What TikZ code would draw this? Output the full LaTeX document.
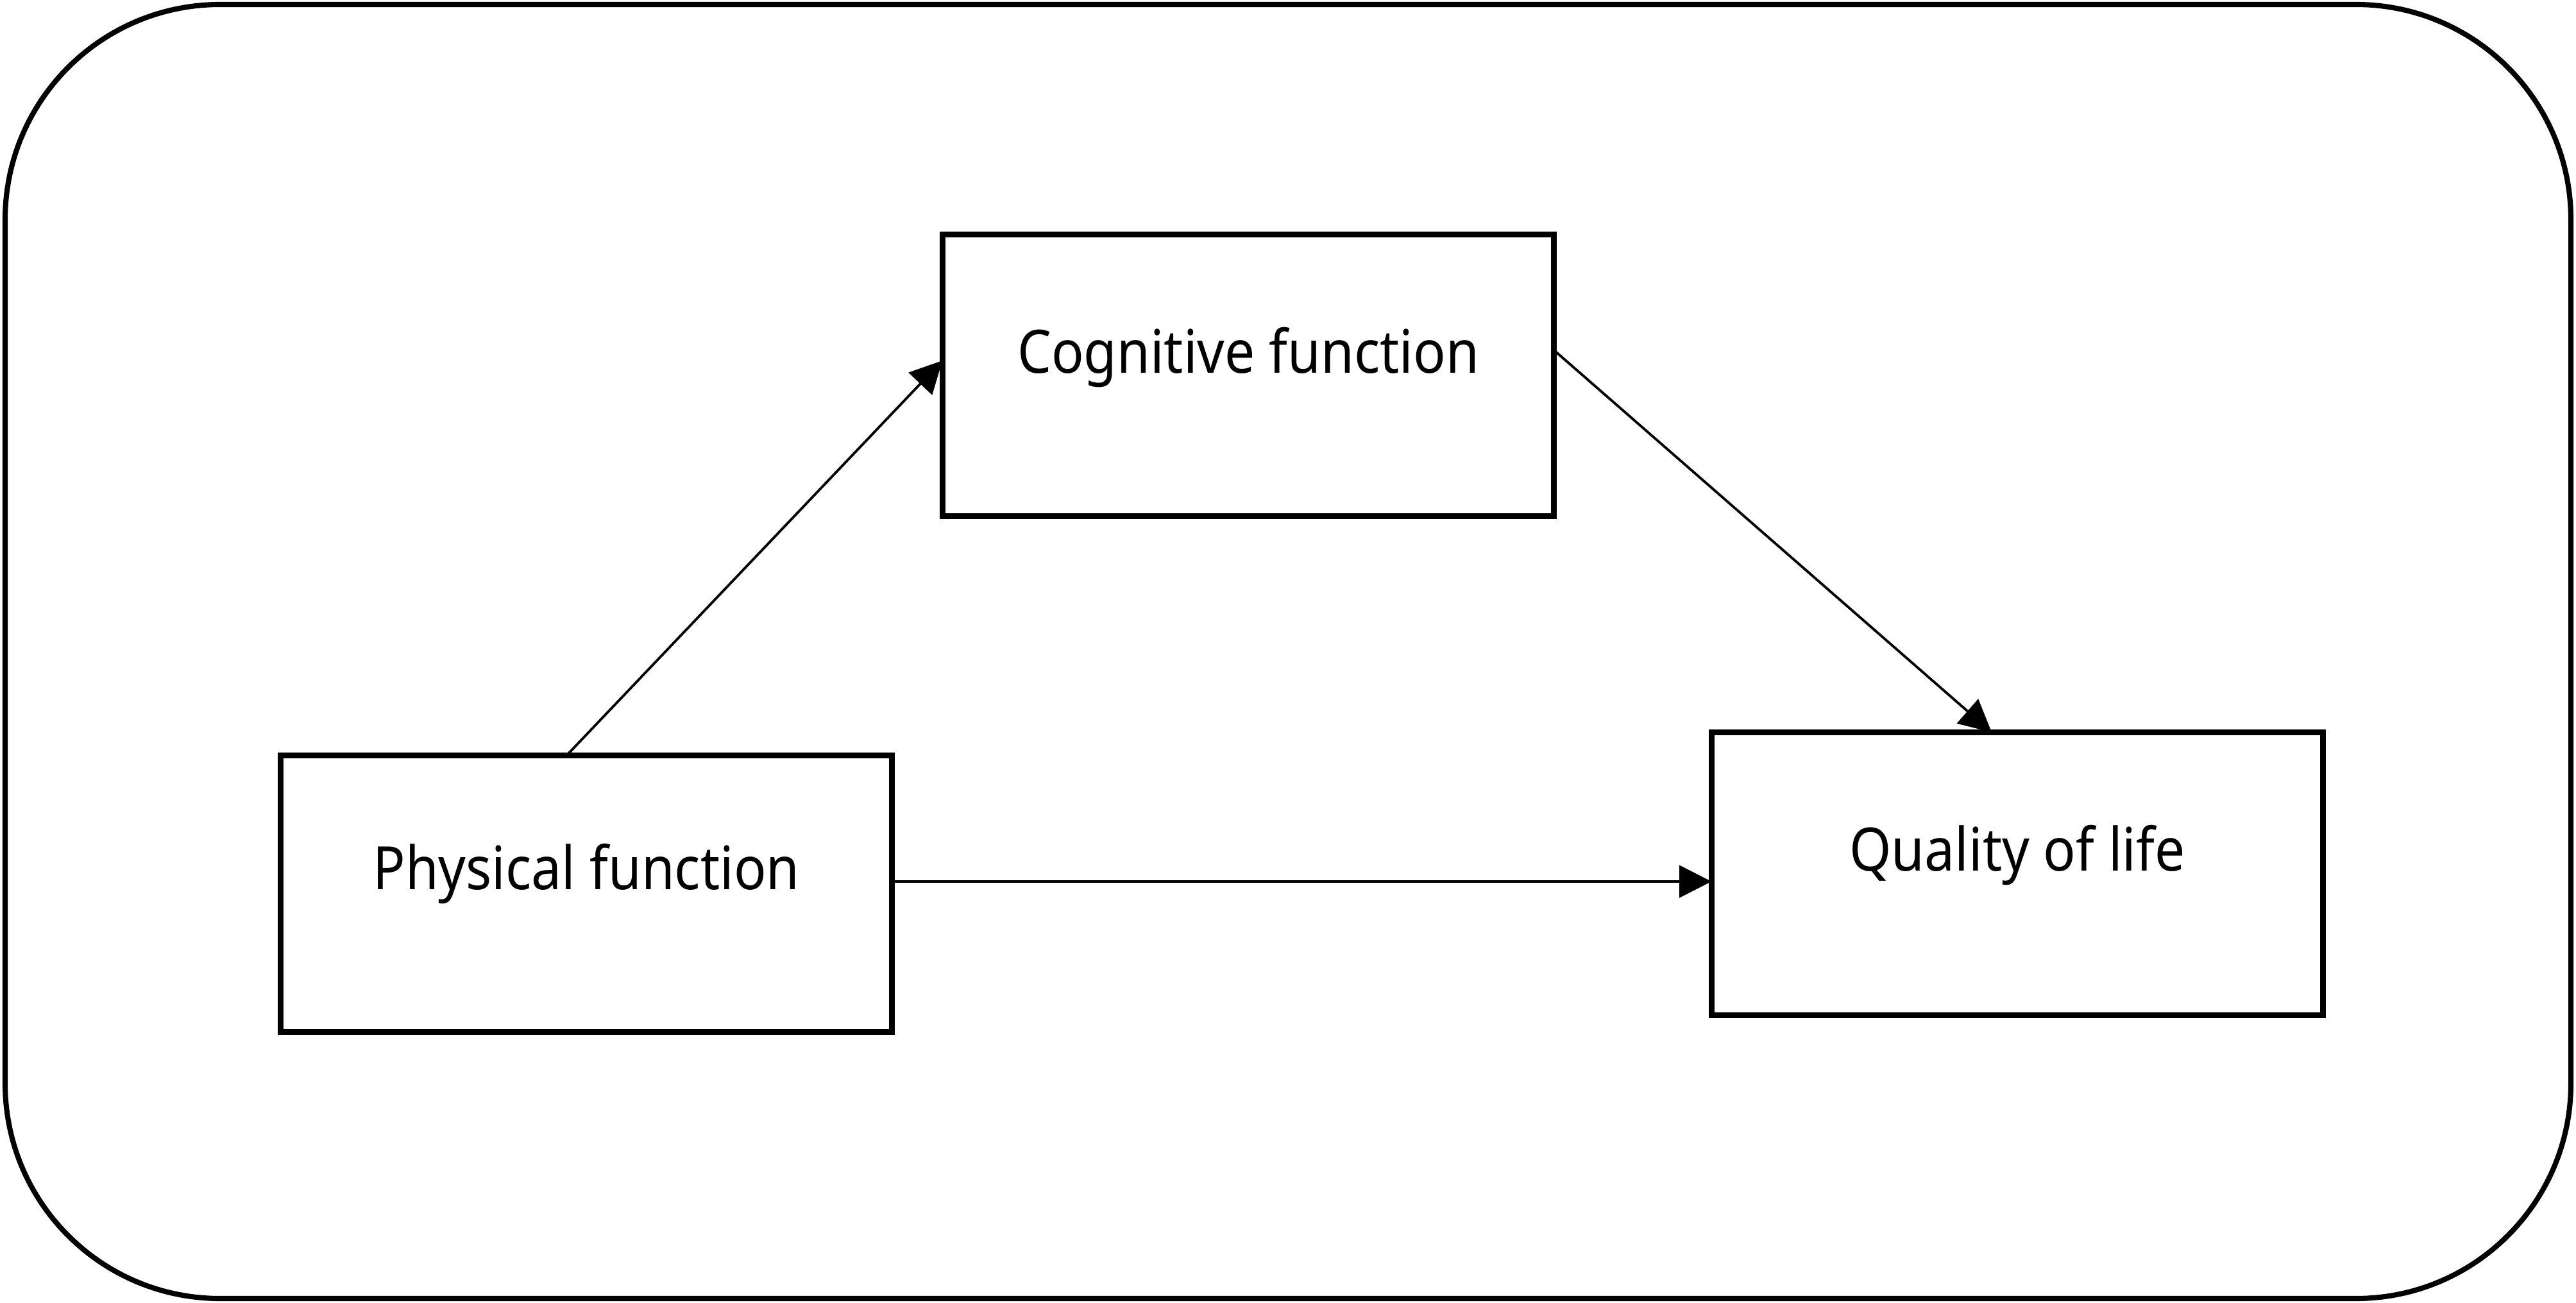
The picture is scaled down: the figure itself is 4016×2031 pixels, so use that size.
\documentclass[tikz,border=0pt]{standalone}
\usepackage{fontspec}
\setmainfont{Noto Sans}[FakeStretch=0.9]
\usetikzlibrary{arrows.meta}
\begin{document}
\begin{tikzpicture}[x=0.01cm,y=-0.01cm,
  box/.style={draw=black,line width=2.5pt,minimum width=9.53cm,inner sep=0pt,outer sep=0pt},
  lbl/.style={inner sep=0pt,anchor=base,font=\fontsize{26.5pt}{30pt}\selectfont},
  arr/.style={line width=1.1pt,-{Triangle[length=0.5cm,width=0.5cm]}}]
\useasboundingbox (0,0) rectangle (4016,2031);
\draw[line width=2.3pt,rounded corners=3.35cm] (8,7) rectangle (4008,2024);
\node[box,minimum height=4.38cm] (cog) at (1946,585) {};
\node[box,minimum height=4.30cm] (phys) at (914,1393) {};
\node[box,minimum height=4.41cm] (qol) at (3145,1362) {};
\node[lbl] (cogt) at (1946,582) {Cognitive function};
\node[lbl] (physt) at (914,1386) {Physical function};
\node[lbl] (qolt) at (3145,1357) {Quality of life};
\draw[arr] (phys.north -| 883,0) -- (cog.west |- 0,562);
\draw[arr] (cog.east |- 0,546) -- (qol.north -| 3105,0);
\draw[arr] (phys.east |- 0,1374) -- (qol.west |- 0,1374);
\end{tikzpicture}
\end{document}
